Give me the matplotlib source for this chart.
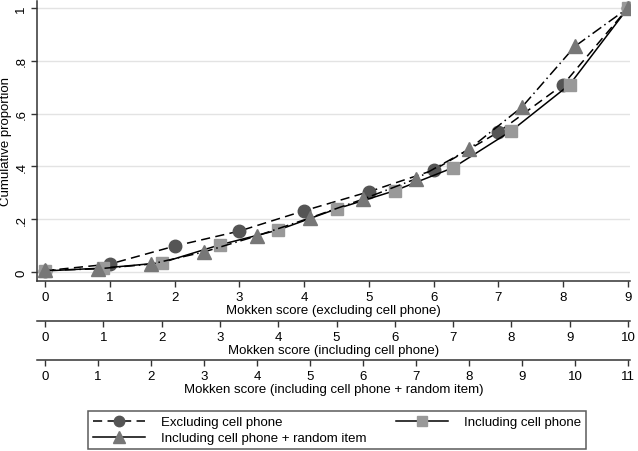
import matplotlib.pyplot as plt
from matplotlib.lines import Line2D

plt.rcParams['font.family'] = ['Liberation Sans', 'DejaVu Sans']
plt.rcParams['font.size'] = 9.5

# cumulative proportions by Mokken score
excl_scores = list(range(0, 10))
excl_prop = [0.005, 0.03, 0.098, 0.155, 0.232, 0.304, 0.386, 0.53, 0.71, 1.0]

incl_scores = list(range(0, 11))
incl_prop = [0.004, 0.015, 0.035, 0.103, 0.159, 0.239, 0.308, 0.395, 0.535, 0.71, 1.0]

rand_scores = list(range(0, 12))
rand_prop = [0.006, 0.012, 0.03, 0.076, 0.137, 0.205, 0.276, 0.353, 0.465, 0.625, 0.855, 1.0]

yticks = [0, 0.2, 0.4, 0.6, 0.8, 1.0]
ytick_labels = ['0', '.2', '.4', '.6', '.8', '1']

W, H = 638, 452
fig = plt.figure(figsize=(W / 100, H / 100), dpi=100)
# axes box in pixels: left 37, right 630, top 2, bottom 282
ax = fig.add_axes([37 / W, 1 - 282 / H, (630 - 37) / W, 280 / H])

# common x: fraction of maximum score
def frac(scores):
    m = max(scores)
    return [s / m for s in scores]

ax.plot(frac(excl_scores), excl_prop, color='black', lw=1.1, ls=(0, (6, 3.5)),
        marker='o', ms=9, mfc='#555555', mec='#555555', zorder=3)
ax.plot(frac(incl_scores), incl_prop, color='black', lw=1.1, ls='-',
        marker='s', ms=9, mfc='#999999', mec='#999999', zorder=3)
ax.plot(frac(rand_scores), rand_prop, color='black', lw=1.1, ls=(0, (7, 2.5, 1, 2.5)),
        marker='^', ms=10, mfc='#777777', mec='#777777', zorder=3)

span = 583.0  # px from score 0 to max
ax.set_xlim(-8 / span, 1 + 2 / span)
ax.set_ylim(-9 / 264, 1 + 7 / 264)

ax.set_yticks(yticks)
ax.set_yticklabels(ytick_labels, rotation=90, va='center')
ax.set_ylabel('Cumulative proportion')
ax.yaxis.set_label_coords(-25 / 593, 0.5)
ax.grid(axis='y', color='#e3e3e3', lw=1)
ax.set_axisbelow(True)
for s in ['top', 'right']:
    ax.spines[s].set_visible(False)
for s in ['left', 'bottom']:
    ax.spines[s].set_color('#333333')
    ax.spines[s].set_linewidth(1.1)
ax.tick_params(direction='out', length=4, width=1, color='#333333', pad=3)

ax.set_xticks(frac(excl_scores))
ax.set_xticklabels([str(s) for s in excl_scores])
ax.set_xlabel('Mokken score (excluding cell phone)', labelpad=1)

# extra x axes below
for loc, scores, title in [(-40 / 280, incl_scores, 'Mokken score (including cell phone)'),
                           (-79 / 280, rand_scores, 'Mokken score (including cell phone + random item)')]:
    m = max(scores)
    sec = ax.secondary_xaxis(loc, functions=(lambda x, m=m: x * m, lambda x, m=m: x / m))
    sec.set_xticks(scores)
    sec.set_xticklabels([str(s) for s in scores])
    sec.set_xlabel(title, labelpad=1)
    sec.spines['bottom'].set_color('#333333')
    sec.spines['bottom'].set_linewidth(1.1)
    sec.tick_params(direction='out', length=4, width=1, color='#333333', pad=3)

handles = [
    Line2D([], [], color='black', lw=1.1, ls=(0, (6, 3.5)), marker='o', ms=7.5,
           mfc='#555555', mec='#555555'),
    Line2D([], [], color='black', lw=1.1, ls='-', marker='^', ms=8,
           mfc='#777777', mec='#777777'),
    Line2D([], [], color='black', lw=1.1, ls='-', marker='s', ms=7.5,
           mfc='#999999', mec='#999999'),
]
labels = ['Excluding cell phone', 'Including cell phone + random item', 'Including cell phone']
leg = fig.legend(handles, labels, ncol=2, loc='lower left', mode='expand',
                 bbox_to_anchor=(88 / W, 2 / H, 498 / W, 44 / H),
                 frameon=True, fancybox=False, edgecolor='#333333', handlelength=4,
                 borderaxespad=0, labelspacing=0.3, borderpad=0.35, handletextpad=1.2)
leg.get_frame().set_linewidth(1.1)

fig.savefig('out.png', dpi=100)
